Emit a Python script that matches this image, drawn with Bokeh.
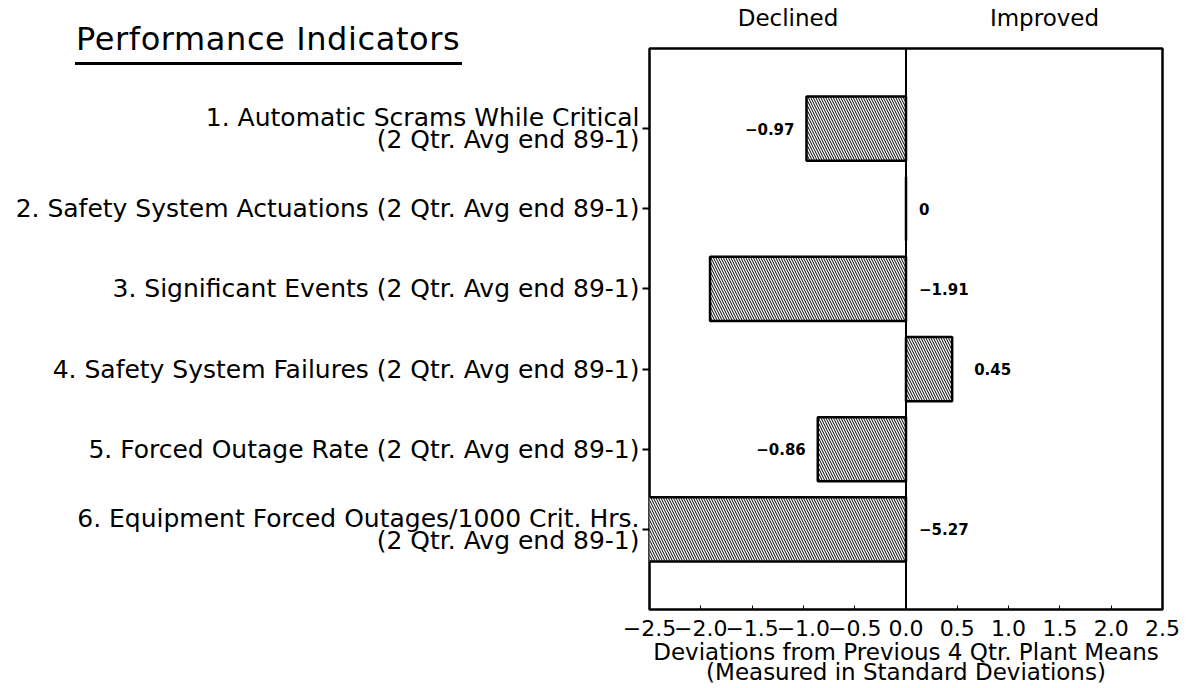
from bokeh.plotting import figure
from bokeh.layouts import column
from bokeh.models import Range1d, FixedTicker, LinearAxis, Span, Div, ColumnDataSource
from bokeh.embed import file_html
from bokeh.resources import INLINE
from bokeh.core.properties import value

# ---------------- data ----------------
categories = [
    "1. Automatic Scrams While Critical\n(2 Qtr. Avg end 89-1)",
    "2. Safety System Actuations (2 Qtr. Avg end 89-1)",
    "3. Significant Events (2 Qtr. Avg end 89-1)",
    "4. Safety System Failures (2 Qtr. Avg end 89-1)",
    "5. Forced Outage Rate (2 Qtr. Avg end 89-1)",
    "6. Equipment Forced Outages/1000 Crit. Hrs.\n(2 Qtr. Avg end 89-1)",
]
deviations = [-0.97, 0.0, -1.91, 0.45, -0.86, -5.27]
x_ticks = [-2.5, -2.0, -1.5, -1.0, -0.5, 0.0, 0.5, 1.0, 1.5, 2.0, 2.5]
x_tick_labels = ["\u22122.5", "\u22122.0", "\u22121.5", "\u22121.0", "\u22120.5", "0.0",
                 "0.5", "1.0", "1.5", "2.0", "2.5"]
side_positions = [-1.15, 1.35]
side_labels = ["Declined", "Improved"]
title_text = "Performance Indicators"
x_label = "Deviations from Previous 4 Qtr. Plant Means\n(Measured in Standard Deviations)"

FONT = "DejaVu Sans"

# ---------------- derived ----------------
ys = list(range(1, len(categories) + 1))


def fmt(v):
    return "0" if v == 0 else f"{v:.2f}".replace("-", "\u2212")


lab_x, lab_align, lab_off = [], [], []
for v in deviations:
    if v > 0:
        lab_x.append(v); lab_align.append("left"); lab_off.append(22)
    elif v == 0 or v <= -1.5:
        lab_x.append(0.0); lab_align.append("left"); lab_off.append(13)
    else:
        lab_x.append(v); lab_align.append("right"); lab_off.append(-12)

src = ColumnDataSource(dict(
    y=ys, right=deviations, left=[0.0] * len(ys),
    lx=lab_x, align=lab_align, off=lab_off,
    txt=[fmt(v) for v in deviations],
))

W, H = 1190, 688
p = figure(
    width=W, height=H,
    x_range=Range1d(-2.5, 2.5), y_range=Range1d(len(categories) + 1, 0),
    output_backend="svg", toolbar_location=None,
    min_border_left=649, min_border_right=W - 1162, min_border_top=48, min_border_bottom=H - 610,
)
p.grid.visible = False
p.outline_line_color = "black"
p.outline_line_width = 2.5
p.background_fill_color = "white"
p.border_fill_color = "white"

p.hbar(y="y", left="left", right="right", height=0.8, source=src,
       fill_color="white", line_color="black", line_width=2.5,
       hatch_pattern="left_diagonal_line", hatch_color="black",
       hatch_scale=5, hatch_weight=1.0)

p.text(x="lx", y="y", text="txt", source=src, text_align="align", x_offset="off",
       text_baseline="middle", text_font=value(FONT), text_font_size="15px",
       text_font_style="bold", text_color="black")

p.add_layout(Span(location=0, dimension="height", line_color="black", line_width=2))

# left axis (category labels)
ya = p.yaxis[0]
ya.ticker = FixedTicker(ticks=ys)
ya.major_label_overrides = {y: c for y, c in zip(ys, categories)}
ya.major_label_text_font = FONT
ya.major_label_text_font_size = "25px"
ya.major_label_text_line_height = 0.75
ya.major_label_text_color = "black"
ya.major_tick_in = 0
ya.major_tick_out = 7
ya.major_tick_line_width = 2
ya.major_tick_line_color = "black"
ya.minor_tick_line_color = None
ya.axis_line_color = None
ya.major_label_standoff = 3

# bottom axis
xa = p.xaxis[0]
xa.ticker = FixedTicker(ticks=x_ticks)
xa.major_label_overrides = {t: l for t, l in zip(x_ticks, x_tick_labels)}
xa.major_label_text_font = FONT
xa.major_label_text_font_size = "22px"
xa.major_label_text_color = "black"
xa.major_tick_in = 4
xa.major_tick_out = 0
xa.major_tick_line_color = "black"
xa.minor_tick_line_color = None
xa.axis_line_color = None
xa.major_label_standoff = 10
xa.axis_label = x_label
xa.axis_label_text_font = FONT
xa.axis_label_text_font_size = "23px"
xa.axis_label_text_line_height = 0.8
xa.axis_label_text_font_style = "normal"
xa.axis_label_text_color = "black"
xa.axis_label_standoff = 0

# top axis (Declined / Improved)
ta = LinearAxis(ticker=FixedTicker(ticks=side_positions),
                major_label_overrides={t: l for t, l in zip(side_positions, side_labels)})
ta.major_label_text_font = FONT
ta.major_label_text_font_size = "23px"
ta.major_label_text_color = "black"
ta.major_tick_line_color = None
ta.minor_tick_line_color = None
ta.axis_line_color = None
ta.major_label_standoff = 12
p.add_layout(ta, "above")

# underlined heading, placed over the empty top-left corner of the canvas
heading = Div(
    text=(f'<div style="font-family:\'{FONT}\';font-size:32px;line-height:1;'
          'letter-spacing:0.6px;white-space:nowrap;color:black;border-bottom:3px solid black;'
          f'padding:0 2px 7px 1px;">{title_text}</div>'),
    styles={"position": "absolute", "left": "70px", "top": "18px", "z-index": "10"},
)

layout = column(p, heading)

open("out.html", "w").write(file_html(layout, INLINE))
